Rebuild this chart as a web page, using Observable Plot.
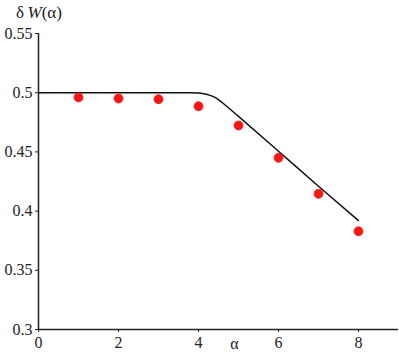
<!DOCTYPE html>
<html>
<head>
<meta charset="utf-8">
<script src="https://cdn.jsdelivr.net/npm/d3@7"></script>
<script src="https://cdn.jsdelivr.net/npm/@observablehq/plot@0.6"></script>
<style>
  html, body { margin: 0; padding: 0; background: #fff; }
  svg { display: block; }
  svg, svg text { font-family: "Liberation Serif", "Times New Roman", "DejaVu Serif", serif !important; }
</style>
</head>
<body>
<div id="chart"></div>
<script>
// Simulation points
const alphaPts = [1, 2, 3, 4, 5, 6, 7, 8];
const dWPts = [0.496, 0.4951, 0.4945, 0.4886, 0.4723, 0.445, 0.4146, 0.383];

// Theory curve
const alphaCurve = [0, 1, 2, 3, 3.8, 4.0, 4.2, 4.4, 4.6, 4.8, 5, 6, 7, 8];
const dWCurve = [0.5, 0.5, 0.5, 0.5, 0.5, 0.4998, 0.4987, 0.4962, 0.4915, 0.4858, 0.4800, 0.4506, 0.4210, 0.3920];

// Tick labels
const xTicks = [0, 2, 4, 6, 8];
const yTicks = [0.3, 0.35, 0.4, 0.45, 0.5, 0.55];
const xLabel = "α";
const xLabelAt = 4.9;

const pts = alphaPts.map((a, i) => ({a, v: dWPts[i]}));
const curve = alphaCurve.map((a, i) => ({a, v: dWCurve[i]}));

const font = "Liberation Serif";

const chart = Plot.plot({
  width: 399,
  height: 354,
  marginLeft: 38,
  marginRight: 1,
  marginTop: 33,
  marginBottom: 25,
  style: {fontFamily: font, fontSize: "16px", color: "#222", background: "#fff"},
  x: {domain: [0, 9], ticks: xTicks, tickSize: 3, tickPadding: 4, tickFormat: d3.format("d"), label: null},
  y: {domain: [0.3, 0.55], ticks: yTicks, tickSize: 3, tickPadding: 3, tickFormat: d3.format(".2~f"), label: null},
  marks: [
    Plot.ruleX([0], {stroke: "#222", strokeWidth: 1.5}),
    Plot.ruleY([0.3], {stroke: "#222", strokeWidth: 1.5}),
    Plot.line(curve, {x: "a", y: "v", curve: "monotone-x", stroke: "#111", strokeWidth: 1.5}),
    Plot.dot(pts, {x: "a", y: "v", r: 4.5, fill: "#ff1414", stroke: "#e0202a", strokeWidth: 0.8}),
    Plot.text([xLabel], {x: xLabelAt, y: 0.3, dy: 14, text: d => d, fontSize: 16, fill: "#222"}),
    () => {
      const g = d3.create("svg:text")
        .attr("x", 39).attr("y", 18)
        .attr("text-anchor", "middle")
        .attr("font-size", 17)
        .attr("fill", "#222");
      g.append("tspan").text("δ\u2009");
      g.append("tspan").attr("font-style", "italic").text("W");
      g.append("tspan").text("(α)");
      return g.node();
    }
  ]
});
document.getElementById("chart").appendChild(chart);
</script>
</body>
</html>
